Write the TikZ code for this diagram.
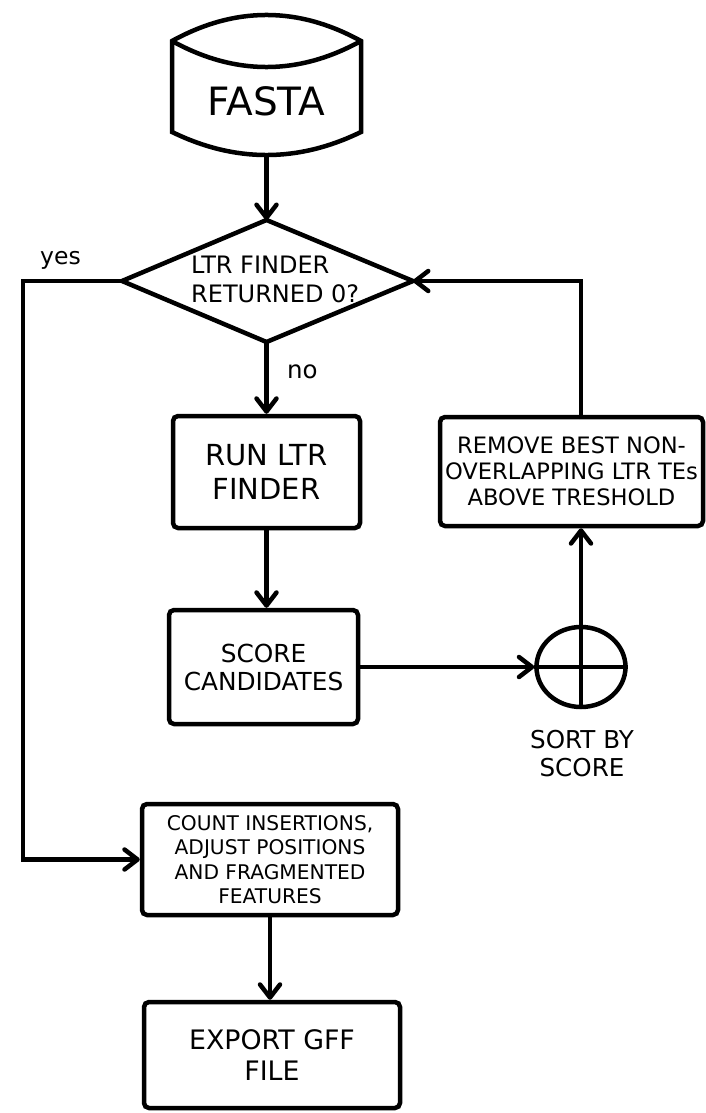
\documentclass[tikz,border=0pt]{standalone}
\usepackage{fontspec}
\setmainfont{DejaVu Sans}
\usetikzlibrary{arrows.meta,shapes.geometric}

\tikzset{
  flow/.style={line width=4.5pt},
  arr/.style={flow, -{Straight Barb[length=13pt,width=20pt,round]}},
  procbox/.style={draw, line width=4.5pt, rounded corners=5pt, inner sep=0pt, align=center},
  plain/.style={inner sep=0pt, align=center},
}

\begin{document}
\begin{tikzpicture}[x=1pt,y=-1pt]
  \useasboundingbox (0,0) rectangle (705,1113);

  % input data shape (FASTA)
  \draw[flow, line join=miter]
    (172,41) .. controls (235,6.3) and (298,6.3) .. (361,41)
    -- (361,132) .. controls (298,162.7) and (235,162.7) .. (172,132) -- cycle;
  \draw[flow] (172,41) .. controls (235,75.7) and (298,75.7) .. (361,41);
  \node[plain, font=\fontsize{39}{44}\selectfont] (fasta) at (266.5,101) {FASTA};
  \coordinate (fastaBot) at (266.5,155);

  % decision diamond
  \coordinate (dL) at (122,281);
  \coordinate (dT) at (266.5,220);
  \coordinate (dR) at (413,281);
  \coordinate (dB) at (266.5,342);
  \draw[flow, line join=miter] (dL) -- (dT) -- (dR) -- (dB) -- cycle;
  \node[anchor=west, inner sep=0pt, align=left, font=\fontsize{24}{29}\selectfont]
    (decision) at (191,279) {LTR FINDER\\RETURNED 0?};

  % process boxes
  \node[procbox, minimum width=187pt, minimum height=112pt, font=\fontsize{29}{34}\selectfont]
    (run) at (266.5,472) {RUN LTR\\FINDER};
  \node[procbox, minimum width=189pt, minimum height=114pt, font=\fontsize{24.8}{28}\selectfont]
    (score) at (263.5,667) {SCORE\\CANDIDATES};
  \node[procbox, minimum width=263pt, minimum height=109pt, font=\fontsize{22.6}{26}\selectfont]
    (remove) at (571.5,471.5) {REMOVE BEST NON-\\OVERLAPPING LTR TEs\\ABOVE TRESHOLD};
  \node[procbox, minimum width=256pt, minimum height=111pt, font=\fontsize{20.2}{24.3}\selectfont]
    (count) at (270,859.5) {COUNT INSERTIONS,\\ADJUST POSITIONS\\AND FRAGMENTED\\FEATURES};
  \node[procbox, minimum width=256pt, minimum height=106pt, font=\fontsize{26.8}{31.7}\selectfont]
    (export) at (272,1055) {EXPORT GFF\\FILE};

  % sort junction
  \node[draw, ellipse, line width=4.5pt, inner sep=0pt, minimum width=89pt, minimum height=80pt]
    (sort) at (581,667) {};
  \node[plain, font=\fontsize{24.6}{28}\selectfont] (sortLabel) at (582,753.5) {SORT BY\\SCORE};

  % branch labels
  \node[anchor=base west, inner sep=0pt, font=\fontsize{23.5}{27}\selectfont] (yesLabel) at (40,264) {yes};
  \node[anchor=base west, inner sep=0pt, font=\fontsize{24.5}{28}\selectfont] (noLabel) at (287,378) {no};

  % connectors
  \coordinate (yesTurn) at (23,281);
  \draw[arr] (fastaBot) -- (dT);
  \draw[arr, line join=miter] (dL) -- (yesTurn) |- (count.west);
  \draw[arr] (dB) -- (run.north);
  \draw[arr] (run.south) -- (run.south |- score.north);
  \draw[arr] (score.east) -- (sort.west);
  \draw[flow] (sort.west) -- (sort.east);
  \draw[arr] (sort.south) -- (sort.south |- remove.south);
  \draw[arr, line join=miter] (remove.south -| sort.south) ++(0,-109) |- (dR);
  \draw[arr] (count.south) -- (count.south |- export.north);
\end{tikzpicture}
\end{document}
